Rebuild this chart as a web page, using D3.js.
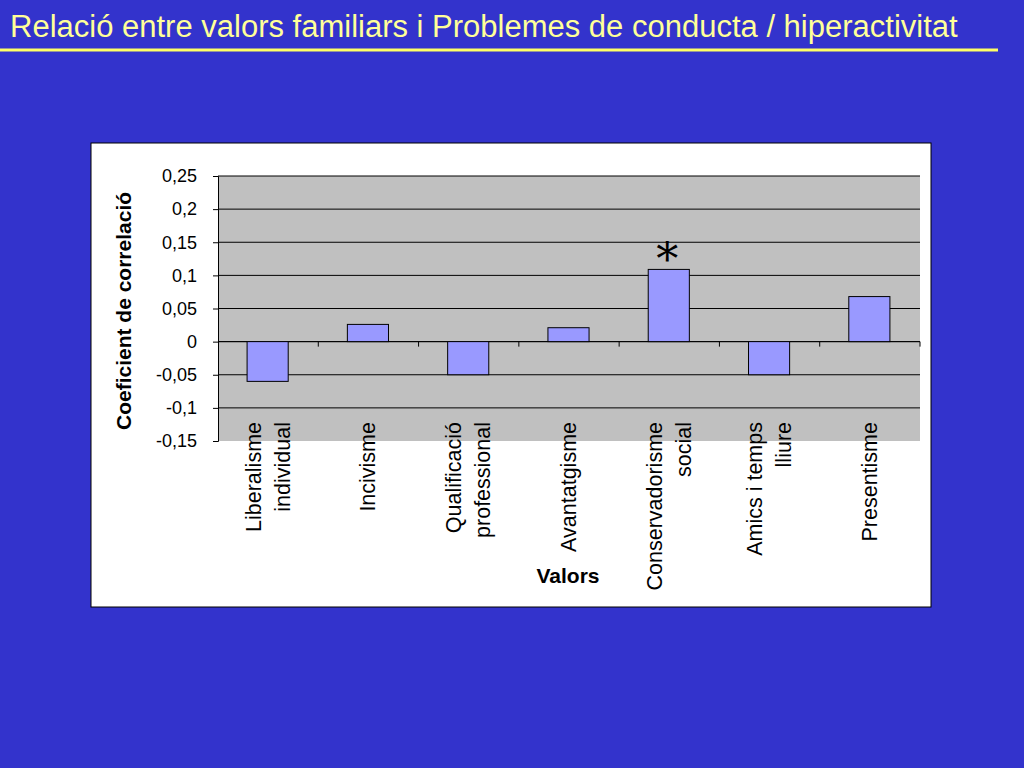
<!DOCTYPE html><html><head><meta charset="utf-8"><script src="https://cdn.jsdelivr.net/npm/d3@7"></script>
<style>body{margin:0;background:#3333cc}</style></head><body><svg width="1024" height="768"></svg>
<script>
const categories=[["Liberalisme","individual"],["Incivisme"],["Qualificació","professional"],["Avantatgisme"],["Conservadorisme","social"],["Amics i temps","lliure"],["Presentisme"]];
const values=[-0.06,0.026,-0.05,0.021,0.109,-0.05,0.068];
const marks=["","","","","*","",""];
const yTicks=[-0.15,-0.1,-0.05,0,0.05,0.1,0.15,0.2,0.25];
const svg=d3.select("svg");const F="Liberation Sans, Arial, sans-serif";
svg.append("rect").attr("width",1024).attr("height",768).attr("fill","#3333cc");
svg.append("text").attr("x",10).attr("y",37).attr("fill","#ffff99").attr("font-family",F).attr("font-size",31).text("Relació entre valors familiars i Problemes de conducta / hiperactivitat");
svg.append("line").attr("x1",0).attr("x2",998).attr("y1",50).attr("y2",50).attr("stroke","#ffff66").attr("stroke-width",3);
svg.append("rect").attr("x",91).attr("y",143).attr("width",840).attr("height",464).attr("fill","#fff").attr("stroke","#000");
const x=d3.scaleBand().domain(d3.range(7)).range([218,920]);
const y=d3.scaleLinear().domain([-0.15,0.25]).range([441,176]);
svg.append("rect").attr("x",218).attr("y",176).attr("width",702).attr("height",265).attr("fill","#c0c0c0");
yTicks.forEach(t=>{if(t>-0.15)svg.append("line").attr("x1",218).attr("x2",920).attr("y1",y(t)).attr("y2",y(t)).attr("stroke","#000");});
const ya=svg.append("g").attr("transform","translate(218,0)").call(d3.axisLeft(y).tickValues(yTicks).tickSize(5).tickPadding(16).tickFormat(d=>String(d).replace(".",",")));
ya.selectAll("text").attr("font-family",F).attr("font-size",18).attr("fill","#000");ya.select(".domain").attr("stroke","#000");
svg.append("line").attr("x1",218).attr("x2",920).attr("y1",y(0)).attr("y2",y(0)).attr("stroke","#000");
d3.range(1,8).forEach(i=>svg.append("line").attr("x1",218+i*x.step()).attr("x2",218+i*x.step()).attr("y1",y(0)).attr("y2",y(0)+5).attr("stroke","#000"));
svg.selectAll(".b").data(values).enter().append("rect").attr("x",(d,i)=>x(i)+x.bandwidth()*0.29).attr("width",x.bandwidth()*0.41)
.attr("y",d=>y(Math.max(0,d))).attr("height",d=>Math.abs(y(d)-y(0))).attr("fill","#9999ff").attr("stroke","#000");
marks.forEach((m,i)=>{if(m)svg.append("text").attr("x",x(i)+x.bandwidth()/2-2).attr("y",y(values[i])+6).attr("text-anchor","middle").attr("font-family","DejaVu Serif, serif").attr("font-size",44).attr("font-weight","lighter").text(m);});
categories.forEach((c,i)=>{const cx=x(i)+x.bandwidth()/2;const n=c.length;
c.forEach((l,j)=>{const off=(j-(n-1)/2)*29+7;svg.append("text").attr("transform",`translate(${cx+off},422) rotate(-90)`).attr("text-anchor","end").attr("font-family",F).attr("font-size",21.5).text(l);});});
svg.append("text").attr("x",568).attr("y",583).attr("text-anchor","middle").attr("font-family",F).attr("font-size",21).attr("font-weight","bold").text("Valors");
svg.append("text").attr("transform","translate(131,311) rotate(-90)").attr("text-anchor","middle").attr("font-family",F).attr("font-size",21).attr("font-weight","bold").text("Coeficient de correlació");
</script></body></html>
